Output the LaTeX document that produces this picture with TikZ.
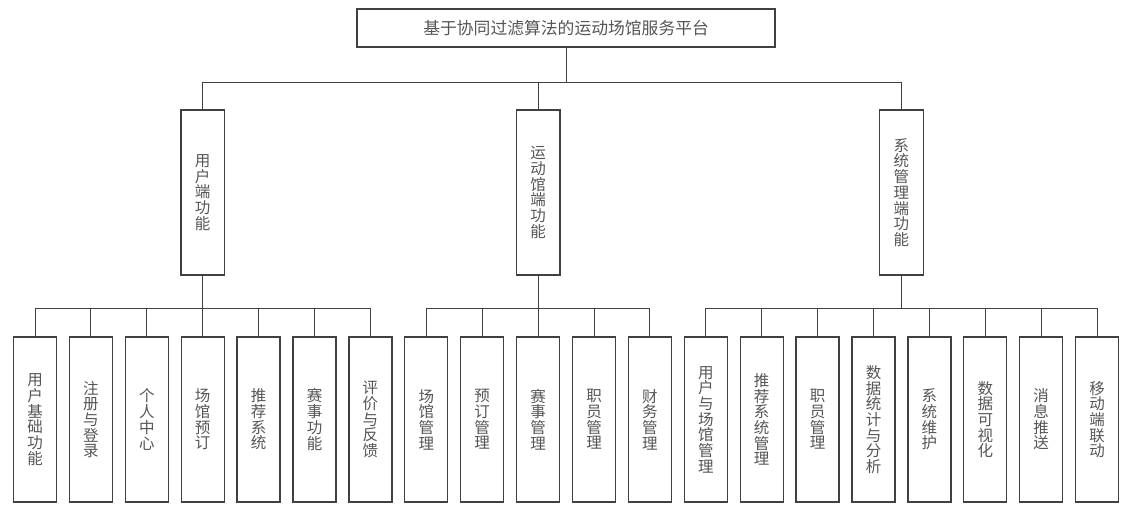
\documentclass[tikz,border=0pt]{standalone}
\usepackage{fontspec}
\newfontfamily\cjk{Noto Sans CJK SC}
\usetikzlibrary{positioning, calc}
\definecolor{linegray}{HTML}{404040}
\definecolor{textgray}{HTML}{555555}
\newcommand{\boxfont}{\cjk\fontsize{15.5}{15.7}\selectfont\lineskiplimit=-4pt\relax}

\begin{document}
\begin{tikzpicture}[
    node distance=12.9pt,
    rootbox/.style={rectangle, draw=linegray, line width=1.3pt, outer sep=0pt, minimum width=418pt, minimum height=38pt, text=textgray, font=\cjk\fontsize{16.8}{18}\selectfont},
    groupbox/.style={rectangle, draw=linegray, line width=1.3pt, outer sep=0pt, minimum width=43.5pt, minimum height=165pt, inner sep=0pt, align=center, text=textgray, font=\boxfont},
    leafbox/.style={groupbox, minimum width=43pt},
    link/.style={draw=linegray, line width=1pt}
]

\useasboundingbox (0,0) rectangle (1134pt,-514pt);

% 用户端功能
\node[leafbox] (u1) at (35pt,-419.5pt) {用\\户\\基\\础\\功\\能};
\node[leafbox, right=of u1] (u2) {注\\册\\与\\登\\录};
\node[leafbox, right=of u2] (u3) {个\\人\\中\\心};
\node[leafbox, right=of u3] (u4) {场\\馆\\预\\订};
\node[leafbox, right=of u4] (u5) {推\\荐\\系\\统};
\node[leafbox, right=of u5] (u6) {赛\\事\\功\\能};
\node[leafbox, right=of u6] (u7) {评\\价\\与\\反\\馈};

% 运动馆端功能
\node[leafbox, right=of u7] (v1) {场\\馆\\管\\理};
\node[leafbox, right=of v1] (v2) {预\\订\\管\\理};
\node[leafbox, right=of v2] (v3) {赛\\事\\管\\理};
\node[leafbox, right=of v3] (v4) {职\\员\\管\\理};
\node[leafbox, right=of v4] (v5) {财\\务\\管\\理};

% 系统管理端功能
\node[leafbox, right=of v5] (s1) {用\\户\\与\\场\\馆\\管\\理};
\node[leafbox, right=of s1] (s2) {推\\荐\\系\\统\\管\\理};
\node[leafbox, right=of s2] (s3) {职\\员\\管\\理};
\node[leafbox, right=of s3] (s4) {数\\据\\统\\计\\与\\分\\析};
\node[leafbox, right=of s4] (s5) {系\\统\\维\\护};
\node[leafbox, right=of s5] (s6) {数\\据\\可\\视\\化};
\node[leafbox, right=of s6] (s7) {消\\息\\推\\送};
\node[leafbox, right=of s7] (s8) {移\\动\\端\\联\\动};

% second level
\node[groupbox, above=62pt of u4] (user) {用\\户\\端\\功\\能};
\node[groupbox, above=62pt of v3] (venue) {运\\动\\馆\\端\\功\\能};
\node[groupbox, anchor=south] (sys) at ($(s4.north)!0.5!(s5.north)+(0,62pt)$) {系\\统\\管\\理\\端\\功\\能};

\node[rootbox, above=63pt of venue, xshift=28pt] (title) {基于协同过滤算法的运动场馆服务平台};

\foreach \c in {user, venue, sys}
    \draw[link] (title.south) -- ++(0,-35pt) -| (\c.north);
\foreach \c in {u1, u2, u3, u4, u5, u6, u7}
    \draw[link] (user.south) -- ++(0,-33pt) -| (\c.north);
\foreach \c in {v1, v2, v3, v4, v5}
    \draw[link] (venue.south) -- ++(0,-33pt) -| (\c.north);
\foreach \c in {s1, s2, s3, s4, s5, s6, s7, s8}
    \draw[link] (sys.south) -- ++(0,-33pt) -| (\c.north);

\end{tikzpicture}
\end{document}
